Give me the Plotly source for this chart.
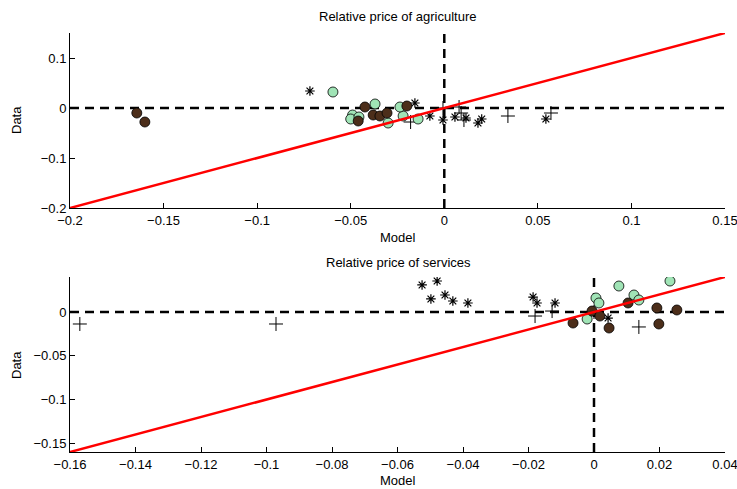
import plotly.graph_objects as go

# ---------------- data ----------------
# Top panel: Relative price of agriculture
agr_star_x = [-0.0718, -0.0157, -0.0077, -0.0007, 0.0057, 0.0116, 0.018, 0.020, 0.0543]
agr_star_y = [0.034, 0.010, -0.016, -0.024, -0.018, -0.020, -0.030, -0.022, -0.022]
agr_plus_x = [-0.0007, 0.0079, 0.009, 0.0105, -0.018, 0.034, 0.057]
agr_plus_y = [0.000, 0.002, -0.010, -0.024, -0.028, -0.016, -0.010]
agr_green_x = [-0.0595, -0.037, -0.049, -0.050, -0.0456, -0.030, -0.022, -0.014, -0.0237]
agr_green_y = [0.032, 0.008, -0.014, -0.022, -0.018, -0.030, -0.016, -0.022, 0.002]
agr_brown_x = [-0.1643, -0.160, -0.0424, -0.038, -0.0344, -0.0306, -0.020, -0.046]
agr_brown_y = [-0.010, -0.028, 0.002, -0.014, -0.016, -0.010, 0.004, -0.026]

# Bottom panel: Relative price of services
srv_star_x = [-0.0525, -0.0479, -0.0498, -0.0455, -0.0431, -0.0385, -0.0186, -0.0174, -0.0119, 0.0043]
srv_star_y = [0.0309, 0.0354, 0.0149, 0.0194, 0.0126, 0.0103, 0.0171, 0.0103, 0.0103, -0.0069]
srv_plus_x = [-0.157, -0.0971, -0.018, -0.0128, 0.0, 0.0137]
srv_plus_y = [-0.0137, -0.0137, -0.0046, 0.0011, 0.0, -0.0171]
srv_green_x = [0.0076, 0.0232, 0.0006, 0.0015, -0.0021, 0.0122, 0.0137]
srv_green_y = [0.0297, 0.0354, 0.016, 0.0103, -0.008, 0.0194, 0.0137]
srv_brown_x = [-0.0064, -0.0006, 0.0018, 0.0046, 0.0104, 0.0192, 0.0198, 0.0253]
srv_brown_y = [-0.0126, 0.0011, -0.0046, -0.0183, 0.0103, 0.0046, -0.0137, 0.0023]

# axis ranges and ticks
agr_range = [-0.2, 0.15]
srv_range = [-0.16, 0.04]
agr_xticks = [-0.2, -0.15, -0.1, -0.05, 0, 0.05, 0.1, 0.15]
agr_xlabels = ["\u22120.2", "\u22120.15", "\u22120.1", "\u22120.05", "0", "0.05", "0.1", "0.15"]
agr_yticks = [-0.2, -0.1, 0, 0.1]
agr_ylabels = ["\u22120.2", "\u22120.1", "0", "0.1"]
srv_xticks = [-0.16, -0.14, -0.12, -0.1, -0.08, -0.06, -0.04, -0.02, 0, 0.02, 0.04]
srv_xlabels = ["\u22120.16", "\u22120.14", "\u22120.12", "\u22120.1", "\u22120.08", "\u22120.06",
               "\u22120.04", "\u22120.02", "0", "0.02", "0.04"]
srv_yticks = [-0.15, -0.1, -0.05, 0]
srv_ylabels = ["\u22120.15", "\u22120.1", "\u22120.05", "0"]

titles = ["Relative price of agriculture", "Relative price of services"]
xlabel = "Model"
ylabel = "Data"

GREEN = "rgb(160,228,182)"
BROWN = "rgb(76,46,26)"
FONT = "Liberation Sans, Arial, Helvetica, sans-serif"
FS = 13

fig = go.Figure()


def add_panel(xa, ya, rng, sx, sy, px, py, gx, gy, bx, by):
    # dashed zero lines
    fig.add_trace(go.Scatter(x=rng, y=[0, 0], mode="lines", xaxis=xa, yaxis=ya,
                             line=dict(color="black", width=2.5, dash="9px,6px"),
                             hoverinfo="skip", showlegend=False))
    fig.add_trace(go.Scatter(x=[0, 0], y=rng, mode="lines", xaxis=xa, yaxis=ya,
                             line=dict(color="black", width=2.5, dash="9px,6px"),
                             hoverinfo="skip", showlegend=False))
    # markers
    fig.add_trace(go.Scatter(x=sx, y=sy, mode="markers", xaxis=xa, yaxis=ya,
                             marker=dict(symbol="asterisk-open", size=8, color="black",
                                         line=dict(color="black", width=1.2)),
                             showlegend=False))
    fig.add_trace(go.Scatter(x=px, y=py, mode="markers", xaxis=xa, yaxis=ya,
                             marker=dict(symbol="cross-thin-open", size=10, color="black",
                                         line=dict(color="black", width=1)),
                             showlegend=False))
    fig.add_trace(go.Scatter(x=gx, y=gy, mode="markers", xaxis=xa, yaxis=ya,
                             marker=dict(symbol="circle", size=10, color=GREEN,
                                         line=dict(color="black", width=0.8)),
                             showlegend=False))
    fig.add_trace(go.Scatter(x=bx, y=by, mode="markers", xaxis=xa, yaxis=ya,
                             marker=dict(symbol="circle", size=10, color=BROWN,
                                         line=dict(color="black", width=0.8)),
                             showlegend=False))
    # 45-degree line
    fig.add_trace(go.Scatter(x=rng, y=rng, mode="lines", xaxis=xa, yaxis=ya,
                             line=dict(color="rgb(255,0,0)", width=2.5),
                             hoverinfo="skip", showlegend=False))


add_panel("x", "y", agr_range, agr_star_x, agr_star_y, agr_plus_x, agr_plus_y,
          agr_green_x, agr_green_y, agr_brown_x, agr_brown_y)
add_panel("x2", "y2", srv_range, srv_star_x, srv_star_y, srv_plus_x, srv_plus_y,
          srv_green_x, srv_green_y, srv_brown_x, srv_brown_y)

W, H = 737, 489
xdom = [70 / W, 725 / W]
top_dom = [(H - 208) / H, (H - 33) / H]
bot_dom = [(H - 452) / H, (H - 277) / H]

common = dict(showline=True, linecolor="black", linewidth=1, mirror=False,
              ticks="inside", ticklen=5, tickcolor="black", tickwidth=1,
              showgrid=False, zeroline=False, automargin=False,
              ticklabeloverflow="allow",
              tickfont=dict(family=FONT, size=FS, color="black"))

def ann(text, x, y, angle=0):
    return dict(text=text, xref="paper", yref="paper", x=x / W, y=1 - y / H,
                xanchor="center", yanchor="middle", showarrow=False, textangle=angle,
                font=dict(family=FONT, size=FS, color="black"))

fig.update_layout(
    width=W, height=H,
    margin=dict(l=0, r=0, t=0, b=0),
    paper_bgcolor="white", plot_bgcolor="white",
    font=dict(family=FONT, size=FS, color="black"),
    xaxis=dict(domain=xdom, range=agr_range, anchor="y", tickvals=agr_xticks, ticktext=agr_xlabels, **common),
    yaxis=dict(domain=top_dom, range=agr_range, anchor="x", tickvals=agr_yticks, ticktext=agr_ylabels, **common),
    xaxis2=dict(domain=xdom, range=srv_range, anchor="y2", tickvals=srv_xticks, ticktext=srv_xlabels, **common),
    yaxis2=dict(domain=bot_dom, range=srv_range, anchor="x2", tickvals=srv_yticks, ticktext=srv_ylabels, **common),
    annotations=[
        ann(titles[0], 398, 17),
        ann(titles[1], 398, 262),
        ann(xlabel, 398, 238),
        ann(xlabel, 398, 480),
        ann(ylabel, 16, 120, -90),
        ann(ylabel, 16, 365, -90),
    ],
)

fig.write_html("out.html")
